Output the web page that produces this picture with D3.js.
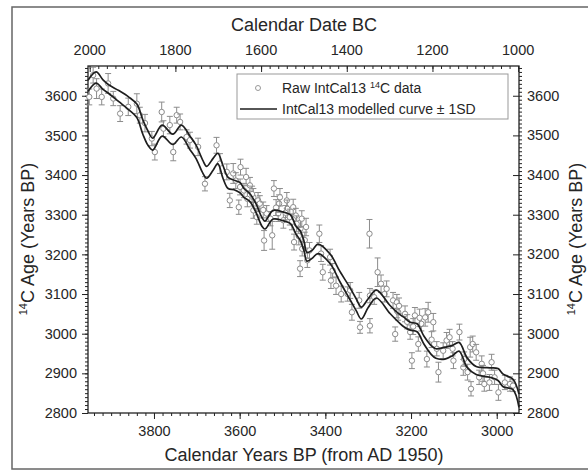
<!DOCTYPE html>
<html>
<head>
<meta charset="utf-8">
<script src="https://cdn.jsdelivr.net/npm/d3@7"></script>
<style>
  body { margin: 0; background: #fff; }
  text { font-family: "Liberation Sans", Arial, sans-serif; fill: #262626; }
</style>
</head>
<body>
<div id="chart"></div>
<script>
// modelled curve (cal BP, 14C age, 1 SD)
const curveCalBP = [3954,3935,3919,3905,3882,3858,3840,3826,3814,3803,3781,3756,3736,3716,3702,3686,3677,3662,3651,3639,3627,3613,3599,3590,3576,3562,3548,3541,3522,3499,3482,3468,3459,3450,3443,3431,3417,3389,3366,3342,3328,3316,3300,3281,3249,3226,3216,3202,3186,3170,3153,3142,3121,3104,3088,3069,3048,3016,2997,2985,2962,2948];
const curveMean = [3625,3646,3628,3616,3599,3580,3562,3521,3493,3478,3512,3490,3511,3481,3459,3421,3407,3427,3442,3408,3380,3375,3368,3355,3343,3317,3282,3274,3300,3296,3289,3260,3248,3222,3194,3200,3214,3189,3144,3100,3073,3052,3077,3100,3061,3037,3029,3019,3015,2984,2959,2950,2951,2957,2967,2927,2907,2902,2897,2882,2872,2831];
const curveSd = [14,14,12,11,14,16,17,18,18,15,14,13,15,17,17,16,15,15,13,16,14,12,13,11,10,11,11,10,11,11,11,10,12,12,11,10,12,12,13,15,15,15,11,10,10,11,12,10,10,10,11,12,15,13,11,12,10,12,15,16,13,17];

// raw IntCal13 measurements
const rawCalBP = [3951,3942,3934,3922,3907,3895,3879,3860,3840,3833,3821,3805,3798,3782,3778,3763,3755,3747,3739,3724,3716,3697,3681,3654,3646,3630,3623,3615,3609,3602,3599,3598,3590,3582,3576,3568,3568,3560,3557,3553,3543,3537,3524,3520,3510,3508,3506,3498,3490,3489,3483,3475,3473,3469,3467,3459,3458,3455,3454,3445,3442,3437,3414,3410,3406,3389,3387,3383,3375,3363,3348,3342,3338,3321,3319,3297,3296,3296,3286,3278,3270,3262,3257,3242,3237,3233,3233,3230,3214,3202,3198,3191,3183,3176,3167,3163,3160,3148,3136,3125,3117,3110,3103,3101,3087,3078,3076,3068,3062,3060,3056,3048,3041,3035,3029,3017,3012,2996,2981,2969,2962,
  3585,3571,3545,3528,3515,3493,3478,3462,3448,3228,3209,3195,3180,3152,3140,3032,3005];
const rawC14 = [3597,3652,3618,3597,3631,3593,3555,3572,3580,3551,3531,3492,3458,3559,3517,3526,3458,3551,3534,3496,3488,3471,3378,3475,3429,3408,3336,3404,3386,3319,3370,3420,3361,3340,3374,3344,3311,3294,3336,3328,3235,3303,3248,3366,3303,3328,3344,3286,3336,3315,3294,3319,3231,3298,3277,3164,3265,3290,3214,3269,3185,3210,3252,3202,3155,3193,3134,3159,3121,3100,3100,3109,3054,3084,3016,3252,3020,3096,3092,3155,3126,3100,3113,3084,2999,3058,3079,3054,3050,3004,2932,3046,2974,3025,3041,2936,3054,3029,2903,2957,2983,2991,2962,2932,3004,2915,2936,2903,2966,2861,2974,2953,2890,2924,2873,2877,2928,2852,2877,2873,2869,
  3395,3352,3312,3290,3318,3305,3282,3246,3236,3070,3030,3018,3040,2985,2962,2900,2890];
const rawErr = [20,20,25,20,25,18,20,22,25,20,22,18,20,25,20,22,22,20,20,18,20,22,18,20,25,20,18,25,20,18,20,20,18,20,20,22,20,18,20,20,25,20,35,20,20,22,22,20,20,22,20,20,20,18,20,20,20,20,18,22,18,20,22,20,20,20,20,18,22,20,18,20,20,20,15,36,18,18,18,36,22,20,20,20,18,18,20,20,20,18,20,20,18,18,22,20,25,22,25,20,20,20,18,20,20,20,18,20,25,18,20,20,18,20,18,20,20,20,18,18,15,
  22,20,20,18,20,18,20,22,20,20,18,20,22,20,18,20,18];

const bottomTicks = [3800, 3600, 3400, 3200, 3000];
const topTicks = [2000, 1800, 1600, 1400, 1200, 1000];
const yTicks = [2800, 2900, 3000, 3100, 3200, 3300, 3400, 3500, 3600];

const width = 588, height = 471;
const plotL = 88, plotR = 519, plotT = 66, plotB = 413;

const svg = d3.select('#chart').append('svg')
  .attr('width', width)
  .attr('height', height);

// outer frame
svg.append('rect')
  .attr('x', 12).attr('y', 7)
  .attr('width', 620).attr('height', 462)
  .attr('fill', 'none')
  .attr('stroke', '#666')
  .attr('stroke-width', 1.5);

const x = d3.scaleLinear().domain([3954, 2948]).range([plotL, plotR]);
const xTop = d3.scaleLinear().domain([3954 - 1950, 2948 - 1950]).range([plotL, plotR]);
const y = d3.scaleLinear().domain([2800, 3675]).range([plotB, plotT]);

const fmt = d3.format('d');

function styleAxis(g) {
  g.select('.domain').remove();
  g.selectAll('line').attr('stroke', '#222').attr('stroke-width', 1);
  g.selectAll('text').style('font-size', '14.5px').attr('fill', '#262626');
}

// bottom axis
svg.append('g').attr('transform', `translate(0,${plotB})`)
  .call(d3.axisBottom(x).tickValues(d3.range(3940, 2948, -20)).tickSize(3).tickFormat(''))
  .call(styleAxis);
svg.append('g').attr('transform', `translate(0,${plotB})`)
  .call(d3.axisBottom(x).tickValues(bottomTicks).tickSize(6).tickPadding(7).tickFormat(fmt))
  .call(styleAxis);

// top axis (ticks point inward)
svg.append('g').attr('transform', `translate(0,${plotT})`)
  .call(d3.axisBottom(xTop).tickValues(d3.range(2000, 998, -20)).tickSize(3).tickFormat(''))
  .call(styleAxis);
svg.append('g').attr('transform', `translate(0,${plotT})`)
  .call(d3.axisBottom(xTop).tickValues(topTicks).tickSize(6).tickFormat(''))
  .call(styleAxis);
topTicks.forEach(t => {
  svg.append('text')
    .attr('x', xTop(t)).attr('y', 55)
    .attr('text-anchor', 'middle')
    .style('font-size', '14.5px')
    .text(t);
});

// left axis
svg.append('g').attr('transform', `translate(${plotL},0)`)
  .call(d3.axisLeft(y).tickValues(d3.range(2800, 3675, 10)).tickSize(3).tickFormat(''))
  .call(styleAxis);
svg.append('g').attr('transform', `translate(${plotL},0)`)
  .call(d3.axisLeft(y).tickValues(yTicks).tickSize(6).tickPadding(5).tickFormat(fmt))
  .call(styleAxis);

// right axis: minor outward, major inward
svg.append('g').attr('transform', `translate(${plotR},0)`)
  .call(d3.axisRight(y).tickValues(d3.range(2800, 3675, 10)).tickSize(3).tickFormat(''))
  .call(styleAxis);
svg.append('g').attr('transform', `translate(${plotR},0)`)
  .call(d3.axisLeft(y).tickValues(yTicks).tickSize(6).tickFormat(''))
  .call(styleAxis);
yTicks.forEach(t => {
  svg.append('text')
    .attr('x', 527).attr('y', y(t)).attr('dy', '0.35em')
    .style('font-size', '14.5px')
    .text(t);
});

// plot frame
svg.append('rect')
  .attr('x', plotL).attr('y', plotT)
  .attr('width', plotR - plotL).attr('height', plotB - plotT)
  .attr('fill', 'none')
  .attr('stroke', '#222')
  .attr('stroke-width', 1.3);

// raw data with error bars
const raw = rawCalBP.map((d, i) => ({bp: d, c14: rawC14[i], err: rawErr[i]}));
const rawG = svg.append('g').attr('stroke', '#8c8c8c').attr('stroke-width', 1);
const pts = rawG.selectAll('g').data(raw).enter().append('g');
pts.append('line')
  .attr('x1', d => x(d.bp)).attr('x2', d => x(d.bp))
  .attr('y1', d => y(d.c14 - d.err)).attr('y2', d => y(d.c14 + d.err));
pts.append('line')
  .attr('x1', d => x(d.bp) - 3).attr('x2', d => x(d.bp) + 3)
  .attr('y1', d => y(d.c14 + d.err)).attr('y2', d => y(d.c14 + d.err));
pts.append('line')
  .attr('x1', d => x(d.bp) - 3).attr('x2', d => x(d.bp) + 3)
  .attr('y1', d => y(d.c14 - d.err)).attr('y2', d => y(d.c14 - d.err));
pts.append('circle')
  .attr('cx', d => x(d.bp)).attr('cy', d => y(d.c14))
  .attr('r', 2.7)
  .attr('fill', '#fff');

// modelled curve +/- 1SD
const curve = curveCalBP.map((d, i) => ({bp: d, mean: curveMean[i], sd: curveSd[i]}));
const upper = d3.line().x(d => x(d.bp)).y(d => y(d.mean + d.sd)).curve(d3.curveCatmullRom.alpha(0.5));
const lower = d3.line().x(d => x(d.bp)).y(d => y(d.mean - d.sd)).curve(d3.curveCatmullRom.alpha(0.5));
[upper, lower].forEach(l => {
  svg.append('path')
    .datum(curve)
    .attr('d', l)
    .attr('fill', 'none')
    .attr('stroke', '#1e1e1e')
    .attr('stroke-width', 1.7);
});

// legend
const lg = svg.append('g');
lg.append('rect')
  .attr('x', 237).attr('y', 74).attr('width', 271).attr('height', 45)
  .attr('fill', '#fff').attr('stroke', '#999').attr('stroke-width', 1);
lg.append('circle')
  .attr('cx', 258).attr('cy', 88).attr('r', 2.5)
  .attr('fill', '#fff').attr('stroke', '#999');
lg.append('line')
  .attr('x1', 240).attr('x2', 277).attr('y1', 109).attr('y2', 109)
  .attr('stroke', '#1e1e1e').attr('stroke-width', 1.7);
const t1 = lg.append('text').attr('x', 282).attr('y', 93).style('font-size', '14px');
t1.append('tspan').text('Raw IntCal13 ');
t1.append('tspan').attr('dy', -5).style('font-size', '9px').text('14');
t1.append('tspan').attr('dy', 5).text('C data');
lg.append('text').attr('x', 282).attr('y', 114).style('font-size', '14px')
  .text('IntCal13 modelled curve \u00b1 1SD');

// axis titles
svg.append('text').attr('x', 304).attr('y', 31)
  .attr('text-anchor', 'middle').style('font-size', '18px')
  .text('Calendar Date BC');
svg.append('text').attr('x', 304).attr('y', 461)
  .attr('text-anchor', 'middle').style('font-size', '18px')
  .text('Calendar Years BP (from AD 1950)');

function yTitle(cx) {
  const t = svg.append('text')
    .attr('transform', `translate(${cx},239) rotate(-90)`)
    .attr('text-anchor', 'middle')
    .style('font-size', '18px');
  t.append('tspan').attr('dy', -7).style('font-size', '11px').text('14');
  t.append('tspan').attr('dy', 7).text('C Age (Years BP)');
}
yTitle(34);
yTitle(582);
</script>
</body>
</html>
